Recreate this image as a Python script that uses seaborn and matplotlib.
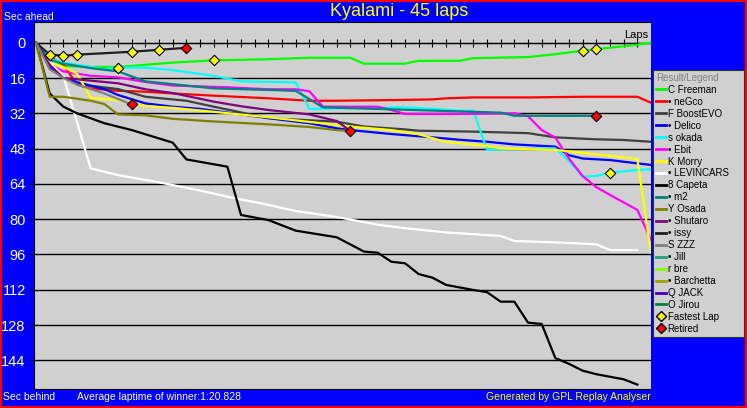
import matplotlib
matplotlib.use("Agg")
import matplotlib.pyplot as plt
from matplotlib.lines import Line2D
from matplotlib.patches import Rectangle
import pandas as pd
import seaborn as sns

plt.rcParams['font.family'] = ['Liberation Sans', 'DejaVu Sans']

# gap to the winner's average pace (seconds) at the laps listed
freeman_laps = [0, 1, 2, 4, 6, 8, 10, 13, 17, 20, 23, 24, 27, 28, 31, 32, 36, 38, 40, 41, 44, 45]
freeman_gap = [0, 7, 10.5, 11, 11, 10, 9, 8, 7.5, 6.8, 6.8, 9.5, 9.5, 8.2, 8.2, 7, 6.5, 5.2, 3.6, 2.9, 0.9, 0]

negco_laps = [0, 1, 2, 3, 4, 6, 8, 10, 13, 17, 20, 22, 26, 29, 30, 32, 36, 40, 44, 45]
negco_gap = [0, 6, 10, 19, 20.7, 21.8, 22.2, 23, 24, 25.2, 26.3, 26.3, 26, 25.7, 25.2, 24.8, 24.8, 24.5, 24.5, 27.2]

boost_laps = [0, 1, 2, 3, 4, 6, 8, 11, 13, 17, 22, 24, 27, 28, 32, 36, 38, 41, 43, 45]
boost_gap = [0, 11, 16, 18, 19.5, 21, 24.5, 26.3, 29, 34.2, 35.8, 38, 39.3, 39.9, 40.3, 41, 42.9, 43.8, 44.1, 44.9]

delico_laps = [0, 1, 2, 3, 5, 6, 8, 10, 12, 15, 18, 20, 22, 23, 26, 29, 31, 33, 35, 38, 39, 40, 42, 44, 45]
delico_gap = [0, 11, 16, 18, 21, 23.7, 27.5, 29, 30, 32.5, 35, 36.5, 38.8, 39.6, 41.4, 42.9, 44, 44.9, 46.1, 47.1, 51, 52.5, 53.2, 54.7, 55.4]

okada_laps = [0, 1, 2, 4, 5, 6, 8, 10, 13, 15, 19, 20, 27, 29, 31, 32, 33, 34, 38, 39, 40, 41, 42, 44, 45]
okada_gap = [0, 7, 9, 11, 12, 11.3, 11.3, 12.4, 15, 17.5, 18, 30, 29.3, 30, 30.8, 30.8, 48.6, 48.3, 47.9, 53.5, 60.7, 60.4, 58.9, 57.7, 57.4]

ebit_laps = [0, 1, 2, 4, 6, 8, 10, 14, 17, 19, 20, 21, 25, 26, 27, 31, 35, 36, 37, 38, 39, 40, 41, 42, 44, 45]
ebit_gap = [0, 10, 13, 15, 15.7, 17.8, 19.4, 20.2, 21.1, 21.1, 22, 29, 29, 30.5, 32.3, 32.3, 32, 33.3, 39.6, 43, 52.5, 60.5, 65.5, 69, 75.8, 89.4]

morry_laps = [0, 1, 2, 3, 4, 6, 8, 10, 13, 17, 22, 23, 26, 28, 30, 33, 34, 38, 41, 44, 45]
morry_gap = [0, 9, 11, 14, 25, 26, 28.7, 29.5, 31.3, 33.8, 37.3, 38, 39.6, 41.5, 45, 46.8, 47.9, 48.6, 50.6, 52.7, 95.2]

levin_laps = [0, 1, 2, 3, 4, 6, 9, 12, 14, 17, 19, 22, 25, 27, 30, 34, 35, 38, 41, 42, 44]
levin_gap = [0, 9, 15, 36, 57, 60, 63.3, 67, 69.8, 73.5, 76.3, 79, 82.5, 84.1, 86, 87.6, 89.9, 90.5, 91.4, 94, 94]

capeta_laps = [0, 1, 2, 3, 5, 7, 10, 11, 14, 15, 17, 19, 22, 24, 25, 26, 27, 28, 29, 30, 32, 33, 34, 35, 36, 37, 38, 39, 40, 41, 43, 44]
capeta_gap = [0, 23, 29, 32, 36.5, 39.6, 45.3, 52.9, 56.2, 78.1, 80.4, 85.2, 88.2, 94.7, 95.2, 99.3, 100, 104.9, 106.5, 109.8, 112.1, 113.1, 117.4, 117.4, 126.9, 127.5, 143, 145.6, 148.7, 150.3, 152.6, 155]

m2_laps = [0, 1, 2, 4, 6, 8, 13, 17, 19, 21, 26, 34, 35, 41]
m2_gap = [0, 7.8, 9.5, 11.5, 13, 17.5, 20.7, 21.4, 21.8, 29.3, 30.2, 31.7, 33.1, 33.1]

osada_laps = [0, 1, 2, 4, 5, 6, 8, 10, 13, 17, 20, 22, 23]
osada_gap = [0, 24.5, 24.5, 26.3, 27.8, 32.5, 32.9, 34.5, 35.7, 37, 38.2, 39.6, 40]

shutaro_laps = [0, 1, 2, 6, 8, 10, 13, 15, 17, 20, 22, 23]
shutaro_gap = [0, 10, 16, 18.4, 21.1, 22.8, 26.7, 28.8, 30.5, 32.5, 35.5, 40]

issy_laps = [0, 1, 2, 3, 7, 9, 11]
issy_gap = [0, 5.4, 5.9, 5.4, 4.1, 3.2, 2.3]

zzz_laps = [0, 1, 2, 3, 5, 7]
zzz_gap = [0, 12, 16, 19, 23, 28]

drivers = ["C Freeman", "• neGco", "F BoostEVO", "• Delico", "s okada", "• Ebit",
           "K Morry", "• LEVINCARS", "8 Capeta", "• m2", "Y Osada", "• Shutaro",
           "• issy", "S ZZZ", "• Jill", "r bre", "• Barchetta", "Q JACK", "O Jirou"]
colors = ["#00FF00", "#FF0000", "#404040", "#0000FF", "#00FFFF", "#FF00FF",
          "#FFFF00", "#FFFFFF", "#000000", "#008080", "#808000", "#800080",
          "#202020", "#808080", "#20A080", "#80FF00", "#A0A000", "#4000C0", "#008040"]

fastest_laps = [1, 2, 3, 6, 7, 9, 13, 40, 41, 42]
fastest_gap = [5.4, 5.9, 5.4, 11.3, 4.1, 3.2, 7.8, 3.6, 2.9, 58.9]
retired_laps = [7, 11, 23, 41]
retired_gap = [28, 2.3, 40, 33.1]

y_ticks = [0, 16, 32, 48, 64, 80, 96, 112, 128, 144]

series = [
    ("C Freeman", freeman_laps, freeman_gap), ("• neGco", negco_laps, negco_gap),
    ("F BoostEVO", boost_laps, boost_gap), ("• Delico", delico_laps, delico_gap),
    ("s okada", okada_laps, okada_gap), ("• Ebit", ebit_laps, ebit_gap),
    ("K Morry", morry_laps, morry_gap), ("• LEVINCARS", levin_laps, levin_gap),
    ("8 Capeta", capeta_laps, capeta_gap), ("• m2", m2_laps, m2_gap),
    ("Y Osada", osada_laps, osada_gap), ("• Shutaro", shutaro_laps, shutaro_gap),
    ("• issy", issy_laps, issy_gap), ("S ZZZ", zzz_laps, zzz_gap),
]
df = pd.concat([pd.DataFrame({"driver": n, "lap": l, "gap": g}) for n, l, g in series])
palette = dict(zip(drivers, colors))

W, H = 747, 408
fig = plt.figure(figsize=(W / 100, H / 100), dpi=100, facecolor="#0000FF")
ax = fig.add_axes([34 / W, (H - 389) / H, (651 - 34) / W, (389 - 22) / H])
ax.set_facecolor("#D0D0D0")

ax.set_xlim(-0.15, 45)
ax.set_ylim(157, -9.4)
ax.set_yticks(y_ticks)
ax.yaxis.grid(True, color="black", lw=1)
ax.set_axisbelow(True)
ax.set_xticks([])
ax.tick_params(axis="y", direction="out", length=3, color="black", labelcolor="white",
               labelsize=10.5, pad=3)
for s in ["left", "top", "bottom"]:
    ax.spines[s].set_color("black")
ax.spines["right"].set_visible(False)

sns.lineplot(data=df, x="lap", y="gap", hue="driver", hue_order=[d for d, _, _ in series],
             palette=palette, estimator=None, sort=False, lw=1.6, legend=False, ax=ax)
sns.scatterplot(x=fastest_laps, y=fastest_gap, marker="D", color="#FFFF00", edgecolor="black",
                s=28, linewidth=0.8, ax=ax, zorder=5)
sns.scatterplot(x=retired_laps, y=retired_gap, marker="D", color="#FF0000", edgecolor="black",
                s=28, linewidth=0.8, ax=ax, zorder=5)
ax.set_xlabel("")
ax.set_ylabel("")

# lap ticks along the zero line
y0, y1 = ax.get_ylim()
zero_pos = (y0 - 0) / (y0 - y1)
lap_axis = ax.secondary_xaxis(zero_pos)
lap_axis.set_xticks(range(1, 45))
lap_axis.tick_params(direction="inout", length=6, color="black", labelbottom=False, labeltop=False)
for sp in lap_axis.spines.values():
    sp.set_color("black")

ax.text(0.995, 0.965, "Laps", transform=ax.transAxes, ha="right", va="center", fontsize=8, color="black")

fig.text(399 / W, 1 - 11 / H, "Kyalami - 45 laps", color="#FFFF00", fontsize=13, ha="center", va="center")
fig.text(4 / W, 1 - 17 / H, "Sec ahead", color="white", fontsize=7.5, va="center")
fig.text(3 / W, 1 - 397 / H, "Sec behind", color="white", fontsize=7.5, va="center")
fig.text(77 / W, 1 - 397 / H, "Average laptime of winner:1:20.828", color="white", fontsize=7.5, va="center")
fig.text(651 / W, 1 - 397 / H, "Generated by GPL Replay Analyser", color="#FFFF00", fontsize=7.5,
         ha="right", va="center")

handles = [Line2D([0], [0], color=c, lw=2) for c in colors]
handles.append(Line2D([0], [0], ls="none", marker="D", ms=5, mfc="#FFFF00", mec="black"))
handles.append(Line2D([0], [0], ls="none", marker="D", ms=5, mfc="#FF0000", mec="black"))
labels = drivers + ["Fastest Lap", "Retired"]
leg = fig.legend(handles, labels, loc="upper left",
                 bbox_to_anchor=(653 / W, (H - 338) / H, 91 / W, 268 / H), mode="expand",
                 fontsize=7, title="Result/Legend", title_fontsize=7, alignment="left",
                 frameon=True, fancybox=False, framealpha=1, facecolor="#D0D0D0",
                 edgecolor="#303030", borderaxespad=0, borderpad=0.3, labelspacing=0.2,
                 handlelength=1.0, handletextpad=0.2)
leg.get_title().set_color("#808080")
leg.get_frame().set_linewidth(0.8)

fig.patches.append(Rectangle((0, 0), 1, 1, transform=fig.transFigure, fill=False,
                             edgecolor="#FF0000", lw=3, figure=fig))

fig.savefig("out.png", dpi=100, facecolor=fig.get_facecolor())
